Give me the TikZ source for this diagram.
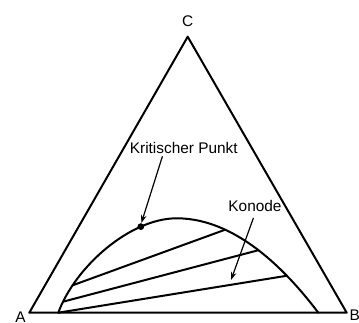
\documentclass[tikz,border=0pt]{standalone}
\usepackage{fontspec}
\setmainfont{Liberation Sans}
\usetikzlibrary{arrows.meta}
\begin{document}
\begin{tikzpicture}[x=1pt,y=1pt,>={Stealth[length=8pt,width=5.5pt]}, font=\fontsize{15.4}{18}\selectfont, line join=round, line cap=round]
			\useasboundingbox (0,0) rectangle (359,322);
			\def\lw{2pt} \def\base{9.3} % Strichstaerke, Grundlinie
			\coordinate (A) at (29.3,\base);
			\coordinate (B) at (346.7,\base);
			\coordinate (C) at (187.7,285.3);
			\draw[line width=\lw] (A)--(B)--(C)--cycle;
			\node[anchor=base] (lA) at (20.5,-0.5){A};
			\node[anchor=base west,inner sep=0pt] (lB) at (349.5,1.5){B};
			\node[anchor=base] (lC) at (187.7,295.3){C};
			% Binodale
			\coordinate (S) at (58.3,\base);
			\coordinate (M) at (176.7,103.7);
			\coordinate (P) at (318.3,\base);
			\draw[line width=\lw] (S) .. controls (75,55) and (130,103.7) .. (M)
				coordinate[pos=0.08] (T2) coordinate[pos=0.2] (T1) coordinate[pos=0.75] (K)
				.. controls (240,103.7) and (292,44) .. (P)
				coordinate[pos=0.27] (E1) coordinate[pos=0.48] (E2) coordinate[pos=0.69] (E3);
			% Konoden
			\draw[line width=\lw] (T1)--(E1);
			\draw[line width=\lw] (T2)--(E2);
			\draw[line width=\lw] (S)--(E3);
			\fill (K) circle (3.4);
			\node[anchor=base] (kp) at (183.8,168){Kritischer Punkt};
			\node[anchor=base] (ko) at (255,110.3){Konode};
			\draw[->,line width=1.2pt] (162.3,165.3) coordinate (kp1) -- ([shift={(0.5,3.6)}]K) coordinate (kp2);
			\draw[->,line width=1.2pt] (253.3,103.7) coordinate (ko1) -- (231,42) coordinate (ko2);
		\end{tikzpicture}
\end{document}
